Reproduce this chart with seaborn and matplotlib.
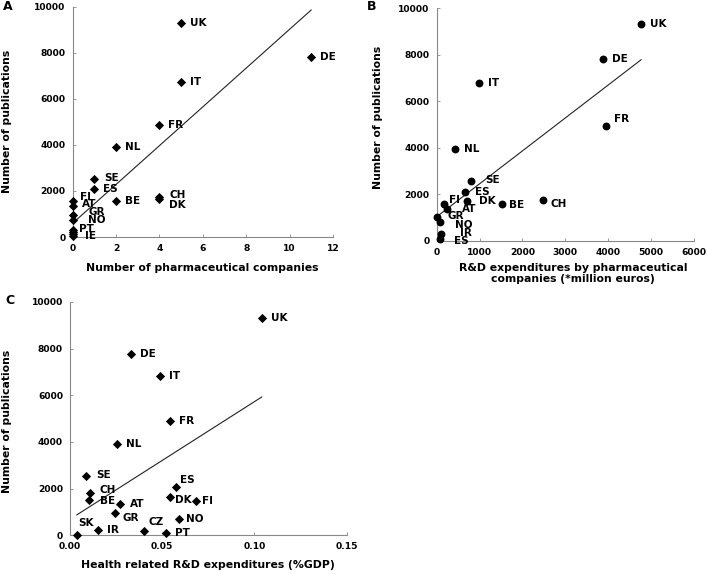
import numpy as np
import pandas as pd
import matplotlib
matplotlib.use("Agg")
import matplotlib.pyplot as plt
import seaborn as sns

# Panel A: number of pharmaceutical companies vs publications
countries_a = ["UK", "DE", "IT", "FR", "NL", "SE", "ES", "BE", "CH", "DK",
               "FI", "AT", "GR", "NO", "PT", "IE", "", ""]
companies_a = [5, 11, 5, 4, 2, 1, 1, 2, 4, 4, 0, 0, 0, 0, 0, 0, 0, 0]
pubs_a = [9300, 7800, 6750, 4870, 3930, 2530, 2080, 1550, 1730, 1650,
          1560, 1330, 960, 740, 300, 220, 150, 50]
fit_a = [600, 842]  # intercept, slope

# Panel B: R&D expenditures by pharmaceutical companies vs publications
countries_b = ["UK", "DE", "IT", "FR", "NL", "SE", "ES", "DK", "BE", "CH",
               "FI", "AT", "GR", "NO", "IR", "ES"]
rd_pharma_b = [4770, 3885, 995, 3940, 420, 800, 667, 707, 1516, 2479,
               170, 233, 0, 80, 110, 77]
pubs_b = [9310, 7800, 6800, 4920, 3930, 2580, 2080, 1710, 1570, 1750,
          1570, 1380, 1020, 800, 290, 70]
fit_b = [1030, 1.4175]

# Panel C: health related R&D expenditures (%GDP) vs publications
countries_c = ["UK", "DE", "IT", "FR", "NL", "SE", "CH", "BE", "AT", "GR",
               "SK", "IR", "CZ", "PT", "ES", "DK", "FI", "NO"]
health_rd_c = [0.104, 0.0329, 0.0488, 0.0544, 0.0257, 0.0085, 0.0108, 0.0103,
               0.0271, 0.0244, 0.0036, 0.0154, 0.0403, 0.052, 0.0575, 0.0544,
               0.0683, 0.0593]
pubs_c = [9330, 7790, 6810, 4900, 3930, 2550, 1800, 1510, 1330, 970,
          30, 230, 200, 110, 2080, 1650, 1480, 710]
fit_c = [690, 50400]

# label offsets in pixels (dx, dy), default (9, 0)
offs_a = {"SE": (10, 1), "CH": (10, 2), "DK": (10, -6), "FI": (7, 4),
          "AT": (9, 2), "GR": (16, 3), "NO": (15, 0), "PT": (6, 1), "IE": (12, -4)}
offs_b = {"FR": (8, 7), "SE": (14, 1), "ES": (10, 0), "DK": (12, 0), "BE": (7, -1),
          "CH": (8, -4), "FI": (5, 4), "AT": (15, 0), "GR": (11, 1), "NO": (15, -3),
          "IR": (19, 1)}
offs_b_list = [offs_b.get(c, (9, 0)) for c in countries_b]
offs_b_list[-1] = (14, -2)
offs_c = {"SE": (11, 1), "CH": (10, 3), "BE": (11, -1), "AT": (10, 0), "GR": (7, -5),
          "SK": (2, 12), "IR": (9, 0), "CZ": (4, 9), "PT": (9, 0), "NO": (7, 0),
          "ES": (4, 7), "DK": (5, -3), "FI": (6, 0)}

sns.set_style("ticks")
plt.rcParams["font.family"] = ["DejaVu Sans"]
plt.rcParams["font.weight"] = "bold"
plt.rcParams["text.color"] = "black"
plt.rcParams["axes.labelcolor"] = "black"
plt.rcParams["xtick.labelcolor"] = "black"
plt.rcParams["ytick.labelcolor"] = "black"

fig = plt.figure(figsize=(7.08, 5.74), dpi=100)
ax_a = fig.add_axes([0.1027, 0.5871, 0.3676, 0.4012])
ax_b = fig.add_axes([0.6168, 0.5807, 0.3634, 0.4048])
ax_c = fig.add_axes([0.0989, 0.0674, 0.3908, 0.4065])


def draw_panel(ax, x, y, names, fit, marker, size, offsets):
    df = pd.DataFrame({"x": x, "y": y, "name": names})
    sns.scatterplot(data=df, x="x", y="y", ax=ax, marker=marker, s=size,
                    color="black", linewidth=0, zorder=3, clip_on=False)
    xs = np.array([df["x"].min(), df["x"].max()])
    line = pd.DataFrame({"x": xs, "y": fit[0] + fit[1] * xs})
    sns.lineplot(data=line, x="x", y="y", ax=ax, color="#222222", linewidth=0.8)
    for i, row in df.iterrows():
        if not row["name"]:
            continue
        dx, dy = offsets[i]
        ax.annotate(row["name"], (row["x"], row["y"]), xytext=(dx, dy),
                    textcoords="offset pixels", ha="left", va="center",
                    fontsize=7.5, fontweight="bold", color="black")
    for s in ["top", "right"]:
        ax.spines[s].set_visible(False)
    for s in ["left", "bottom"]:
        ax.spines[s].set_color("#888888")
        ax.spines[s].set_linewidth(0.8)
    ax.tick_params(direction="in", length=2.5, width=0.6, color="#888888", pad=5)
    ax.set_ylim(0, 10000)
    ax.set_yticks(range(0, 10001, 2000))


draw_panel(ax_a, companies_a, pubs_a, countries_a, fit_a, "D", 22,
           [offs_a.get(c, (9, 0)) for c in countries_a])
ax_a.set_xlim(0, 12)
ax_a.set_xticks(range(0, 13, 2))

draw_panel(ax_b, rd_pharma_b, pubs_b, countries_b, fit_b, "o", 32, offs_b_list)
ax_b.set_xlim(0, 6000)
ax_b.set_xticks(range(0, 6001, 1000))

draw_panel(ax_c, health_rd_c, pubs_c, countries_c, fit_c, "D", 22,
           [offs_c.get(c, (9, 0)) for c in countries_c])
ax_c.set_xlim(0, 0.15)
ax_c.set_xticks([0, 0.05, 0.10, 0.15])
ax_c.set_xticklabels(["0.00", "0.05", "0.10", "0.15"])

for ax in (ax_a, ax_b, ax_c):
    for lab in ax.get_xticklabels() + ax.get_yticklabels():
        lab.set_fontweight("bold")
        lab.set_fontsize(6.6)

lab_kw = dict(fontsize=7.8, fontweight="bold")
ax_a.set_xlabel("Number of pharmaceutical companies", **lab_kw)
ax_a.set_ylabel("Number of publications", **lab_kw)
ax_a.xaxis.set_label_coords(0.497, -0.113)
ax_a.yaxis.set_label_coords(-0.235, 0.5)

ax_b.set_xlabel("R&D expenditures by pharmaceutical\ncompanies (*million euros)",
                linespacing=1.15, **lab_kw)
ax_b.set_ylabel("Number of publications", **lab_kw)
ax_b.xaxis.set_label_coords(0.53, -0.095)
ax_b.yaxis.set_label_coords(-0.21, 0.53)

ax_c.set_xlabel("Health related R&D expenditures (%GDP)", **lab_kw)
ax_c.set_ylabel("Number of publications", **lab_kw)
ax_c.xaxis.set_label_coords(0.5, -0.105)
ax_c.yaxis.set_label_coords(-0.211, 0.49)

fig.text(3 / 708, 1 - 7 / 574, "A", fontsize=9, fontweight="bold", va="center")
fig.text(367 / 708, 1 - 6 / 574, "B", fontsize=9, fontweight="bold", va="center")
fig.text(5 / 708, 1 - 300 / 574, "C", fontsize=9, fontweight="bold", va="center")

fig.savefig("out.png", dpi=100)
